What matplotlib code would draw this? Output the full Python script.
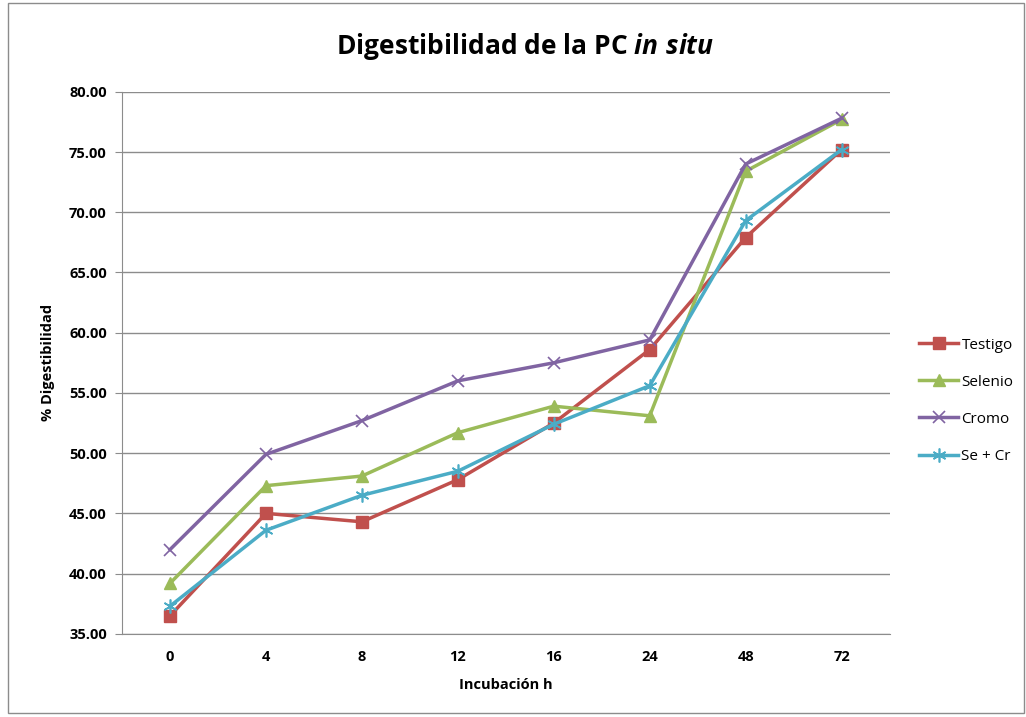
import matplotlib.pyplot as plt
from matplotlib.patches import Rectangle

hours = ["0", "4", "8", "12", "16", "24", "48", "72"]
testigo = [36.5, 45.0, 44.3, 47.8, 52.5, 58.6, 67.9, 75.2]
selenio = [39.2, 47.3, 48.1, 51.7, 53.9, 53.1, 73.4, 77.7]
cromo = [42.0, 49.9, 52.7, 56.0, 57.5, 59.4, 74.0, 77.8]
se_cr = [37.3, 43.6, 46.5, 48.5, 52.4, 55.6, 69.3, 75.2]
y_ticks = [35, 40, 45, 50, 55, 60, 65, 70, 75, 80]

plt.rcParams['font.family'] = ['Open Sans', 'DejaVu Sans']
plt.rcParams['mathtext.fontset'] = 'custom'
plt.rcParams['mathtext.rm'] = 'Open Sans:bold'
plt.rcParams['mathtext.it'] = 'Open Sans:italic:bold'

fig = plt.figure(figsize=(10.26, 7.17), dpi=100)
ax = fig.add_axes([0.119, 0.116, 0.748, 0.756])

x = range(len(hours))
ax.plot(x, testigo, color='#C0504D', lw=2.5, marker='s', ms=9, label='Testigo')
ax.plot(x, selenio, color='#9BBB59', lw=2.5, marker='^', ms=9, label='Selenio')
ax.plot(x, cromo, color='#8064A2', lw=2.5, marker='x', ms=9, mew=1.2, label='Cromo')
ax.plot(x, se_cr, color='#4BACC6', lw=2.5, marker=(6, 2, 0), ms=10, mew=1.2, label='Se + Cr')

ax.set_xlim(-0.5, len(hours) - 0.5)
ax.set_ylim(35, 80)
ax.set_yticks(y_ticks)
ax.set_yticklabels([f"{v:.2f}" for v in y_ticks])
ax.set_xticks(list(x))
ax.set_xticklabels(hours)
ax.grid(axis='y', color='#8c8c8c', lw=1)
ax.set_axisbelow(True)
for s in ['top', 'right']:
    ax.spines[s].set_visible(False)
for s in ['left', 'bottom']:
    ax.spines[s].set_color('#8c8c8c')
ax.tick_params(axis='y', length=5, color='#8c8c8c', labelsize=10.5, pad=6)
ax.tick_params(axis='x', length=0, labelsize=10.5, pad=12)
for lab in ax.get_xticklabels() + ax.get_yticklabels():
    lab.set_fontweight('bold')

ax.set_xlabel('Incubación h', fontsize=10.5, fontweight='bold', labelpad=10)
ax.set_ylabel('% Digestibilidad', fontsize=10.5, fontweight='bold', labelpad=10)

fig.text(0.512, 0.935, 'Digestibilidad de la PC $\\mathit{in\\ situ}$',
         ha='center', va='center', fontsize=19, fontweight='bold')

ax.legend(loc='center left', bbox_to_anchor=(1.02, 0.43), frameon=False,
          handlelength=2.6, labelspacing=1.45, handletextpad=0.2,
          prop={'size': 11})

fig.patches.append(Rectangle((0.008, 0.006), 0.99, 0.99, transform=fig.transFigure,
                             fill=False, edgecolor='#8c8c8c', lw=1))

fig.savefig('out.png', dpi=100)
